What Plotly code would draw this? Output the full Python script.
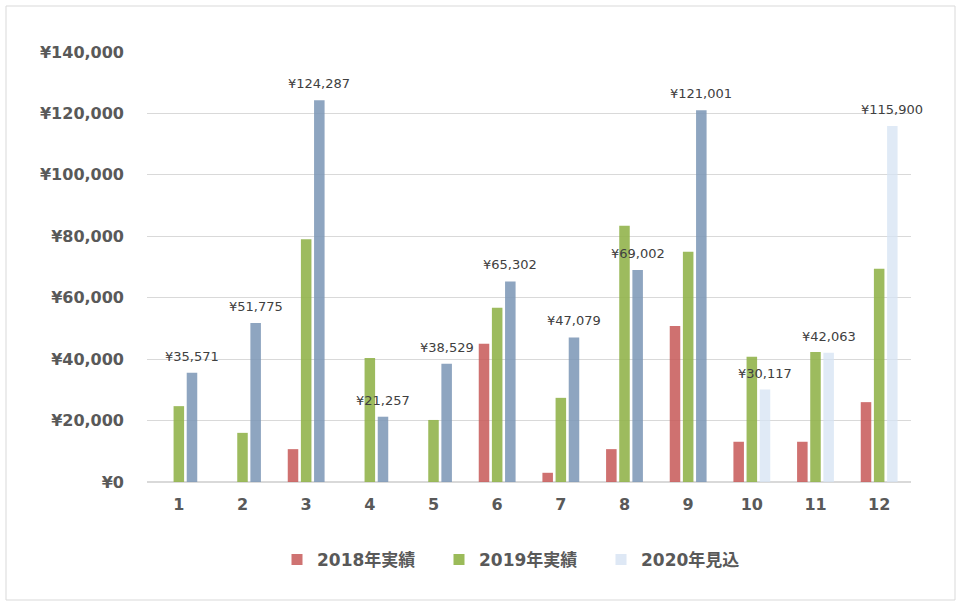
import plotly.graph_objects as go

months = ["1", "2", "3", "4", "5", "6", "7", "8", "9", "10", "11", "12"]
y2018 = [0, 0, 10700, 0, 0, 45000, 3000, 10700, 50800, 13100, 13100, 26000]
y2019 = [24700, 16000, 79000, 40400, 20200, 56700, 27400, 83400, 75000, 40800, 42300, 69400]
y2020 = [35571, 51775, 124287, 21257, 38529, 65302, 47079, 69002, 121001, 30117, 42063, 115900]
y_ticks = [0, 20000, 40000, 60000, 80000, 100000, 120000, 140000]
y_tick_labels = ["¥0", "¥20,000", "¥40,000", "¥60,000", "¥80,000", "¥100,000", "¥120,000", "¥140,000"]
names = ["2018年実績", "2019年実績", "2020年見込"]

c2018 = "rgba(199,88,87,0.85)"
c2019 = "rgba(143,178,72,0.88)"
c2020_actual = "rgba(122,149,181,0.85)"
c2020_plan = "rgba(213,227,243,0.75)"
c2020 = [c2020_actual] * 9 + [c2020_plan] * 3
legend_colors = ["#CF7372", "#9BBB59", "#DEE8F5"]

FONT = "Verdana, 'DejaVu Sans', 'Noto Sans CJK JP', sans-serif"
JP = "'DejaVu Sans', 'Noto Sans CJK JP', sans-serif"

W, H = 961, 606
ML, MR, MT, MB = 147, 50, 52, 124
BARGAP, GROUPGAP = 0.38, 0.2

fig = go.Figure()
fig.add_bar(x=months, y=y2018, name=names[0], marker_color=c2018, marker_line_width=0, showlegend=False)
fig.add_bar(x=months, y=y2019, name=names[1], marker_color=c2019, marker_line_width=0, showlegend=False)
fig.add_bar(x=months, y=y2020, name=names[2], marker_color=c2020, marker_line_width=0, showlegend=False)
for nm, col in zip(names, legend_colors):
    fig.add_scatter(
        x=[None], y=[None], mode="markers", name=nm,
        marker=dict(symbol="square", size=11, color=col),
    )

# data labels over the 2020 bars (third slot of each group); x given as category index
cat_px = (W - ML - MR) / len(months)
slot_px = cat_px * (1 - BARGAP) / 3
for i, v in enumerate(y2020):
    fig.add_annotation(
        x=i, y=v, text="¥{:,}".format(v), showarrow=False,
        xanchor="center", yanchor="bottom", xshift=slot_px, yshift=7,
        font=dict(family=FONT, size=13, color="#404040"),
    )

fig.update_layout(
    width=W, height=H,
    margin=dict(l=ML, r=MR, t=MT, b=MB),
    paper_bgcolor="white", plot_bgcolor="white",
    barmode="group", bargap=BARGAP, bargroupgap=GROUPGAP,
    font=dict(family=FONT, color="#595959"),
    showlegend=True,
    legend=dict(
        orientation="h", x=(277 - ML) / (W - ML - MR), xanchor="left", y=-0.181, yanchor="middle",
        font=dict(family=JP, size=17, color="#595959", weight="bold"),
        itemwidth=30, traceorder="normal", entrywidth=117, entrywidthmode="pixels",
    ),
    xaxis=dict(
        type="category", categoryorder="array", categoryarray=months,
        range=[-0.5, len(months) - 0.5],
        showgrid=False, showline=True, linecolor="#D9D9D9", linewidth=1,
        tickfont=dict(family=FONT, size=16, color="#595959", weight="bold"),
        ticks="", ticklabelstandoff=8,
    ),
    yaxis=dict(
        range=[0, 140000], tickvals=y_ticks, ticktext=y_tick_labels,
        showgrid=True, gridcolor="#D9D9D9", gridwidth=1,
        zeroline=True, zerolinecolor="#D9D9D9",
        showline=False, ticks="", ticklabelstandoff=22,
        tickfont=dict(family=FONT, size=16, color="#595959", weight="bold"),
    ),
    shapes=[dict(
        type="rect", xref="paper", yref="paper",
        x0=(6 - ML) / (W - ML - MR), x1=(955 - ML) / (W - ML - MR),
        y0=(482 - 600) / 430, y1=(482 - 6) / 430,
        line=dict(color="#D9D9D9", width=1), fillcolor="rgba(0,0,0,0)", layer="below",
    )],
)

fig.write_html("out.html")
